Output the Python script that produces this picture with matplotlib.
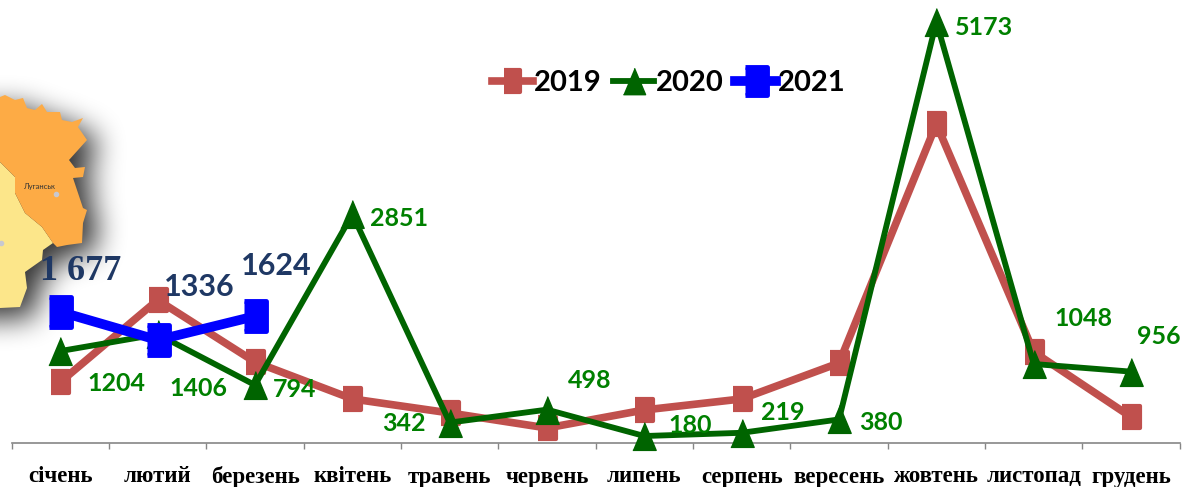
import numpy as np
import matplotlib
matplotlib.use("Agg")
import matplotlib.pyplot as plt
from matplotlib.markers import MarkerStyle
from matplotlib.path import Path
from matplotlib.patches import Polygon

months = ["січень", "лютий", "березень", "квітень", "травень", "червень",
          "липень", "серпень", "вересень", "жовтень", "листопад", "грудень"]
values_2019 = [831, 1819, 1072, 627, 458, 277, 494, 627, 1060, 3940, 1193, 410]
values_2020 = [1204, 1406, 794, 2851, 342, 498, 180, 219, 380, 5173, 1048, 956]
values_2021 = [1677, 1336, 1624]

labels_2020 = ["1204", "1406", "794", "2851", "342", "498", "180", "219", "380", "5173", "1048", "956"]
offsets_2020 = [(56, -32), (41, -54), (40, -4), (47, -4), (-46, -1), (43, 29), (46, 11), (41, 20), (42, -3), (48, -6), (50, 45), (28, 35)]
labels_2021 = ["1 677", "1336", "1624"]
fonts_2021 = ["Liberation Serif", "Lato", "Lato"]
offsets_2021 = [(20, 40), (42, 53), (21, 50)]

orange_map = [(0, 97), (5, 95), (15, 100), (23, 98), (27, 108), (35, 110), (42, 104), (47, 112), (60, 112),
              (62, 120), (72, 122), (83, 118), (78, 127), (87, 140), (78, 150), (69, 160), (75, 168), (85, 167),
              (83, 177), (73, 178), (78, 193), (83, 208), (87, 210), (83, 223), (82, 243), (67, 245), (57, 247),
              (53, 243), (42, 227), (25, 213), (15, 193), (15, 177), (0, 162)]
yellow_map = [(0, 162), (15, 177), (15, 193), (25, 213), (42, 227), (53, 243), (43, 250), (42, 260), (25, 272),
              (27, 288), (20, 307), (0, 308)]

plt.rcParams["font.family"] = ["Lato", "DejaVu Sans"]

fig = plt.figure(figsize=(11.9, 4.87), dpi=100)

# map with soft shadow, in pixel coordinates
bg = fig.add_axes([0, 0, 1, 1], zorder=0)
yy, xx = np.mgrid[0:487, 0:240]
pts = np.c_[xx.ravel() - 12, yy.ravel() - 10]
mask = Path(orange_map).contains_points(pts) | Path(yellow_map).contains_points(pts)
mask = mask.reshape(xx.shape).astype(float)
mask[:, :12] = mask[:, 12:13]
mask = np.pad(mask, ((80, 80), (80, 0)), mode="edge")
kernel = np.ones(27) / 27
for i in range(3):
    mask = np.apply_along_axis(np.convolve, 0, mask, kernel, mode="same")
    mask = np.apply_along_axis(np.convolve, 1, mask, kernel, mode="same")
mask = mask[80:-80, 80:]
rgba = np.zeros(mask.shape + (4,))
rgba[..., 3] = np.clip(mask * 0.8, 0, 1)
bg.imshow(rgba, extent=(0, 240, 487, 0), aspect="auto", interpolation="bilinear")
bg.set_xlim(0, 1190)
bg.set_ylim(487, 0)
bg.axis("off")
bg.add_patch(Polygon(yellow_map, closed=True, fc="#fce68a", ec="none"))
bg.add_patch(Polygon(orange_map, closed=True, fc="#fdab45", ec="none"))
bg.text(40, 186, "Луганськ", fontsize=5.5, ha="center", va="center", color="#333333")
bg.plot([56, 1], [194, 243], "o", ms=3, color="#c8c8d0")

ax = fig.add_axes([11.7 / 1190, 44 / 487, 1168 / 1190, 443 / 487], zorder=1)
ax.patch.set_alpha(0)
x = np.arange(12)
ax.set_xlim(-0.5, 11.5)
ax.set_ylim(96, 5434)

square_2019 = MarkerStyle([(-0.4, -0.5), (0.4, -0.5), (0.4, 0.5), (-0.4, 0.5)], joinstyle="round")
square_2021 = MarkerStyle([(-0.39, -0.5), (0.39, -0.5), (0.39, 0.5), (-0.39, 0.5)], joinstyle="round")
triangle = MarkerStyle([(-0.42, -0.5), (0.42, -0.5), (0, 0.5)])

ax.plot(x, values_2019, color="#c0504d", lw=5.5, marker=square_2019, ms=16, mew=3, clip_on=False, label="2019", zorder=3)
ax.plot(x, values_2020, color="#006400", lw=4.2, marker=triangle, ms=20, mew=1, clip_on=False, label="2020", zorder=4)
ax.plot(x[:3], values_2021, color="#0000ff", lw=7, marker=square_2021, ms=21, mew=3.5, clip_on=False, label="2021", zorder=5)

for xi, yi, text, off in zip(x, values_2020, labels_2020, offsets_2020):
    ax.annotate(text, (xi, yi), xytext=off, textcoords="offset pixels", ha="center", va="center",
                color="#008000", fontsize=18, fontweight="bold", zorder=6)
for xi, yi, text, off, font in zip(x, values_2021, labels_2021, offsets_2021, fonts_2021):
    ax.annotate(text, (xi, yi), xytext=off, textcoords="offset pixels", ha="center", va="center",
                color="#1f3864", fontsize=22 if font == "Lato" else 26, fontweight="bold", family=font, zorder=6)

for side in ["top", "left", "right"]:
    ax.spines[side].set_visible(False)
ax.spines["bottom"].set_color("#868686")
ax.spines["bottom"].set_linewidth(1.2)
ax.set_yticks([])
ax.set_xticks(np.arange(-0.5, 12, 1))
ax.set_xticklabels([])
ax.tick_params(axis="x", length=4, width=1, color="#868686")
for xi, name in zip(x, months):
    ax.annotate(name, (xi, 96), xytext=(0, -34), textcoords="offset pixels", ha="center", va="center",
                fontsize=16.5, fontweight="bold", family="Liberation Serif", annotation_clip=False)

ax.legend(loc="center left", bbox_to_anchor=(480 / 1168, 1 - 83 / 443), ncol=3, frameon=False,
          prop={"size": 21, "weight": "bold"}, handlelength=1.4, columnspacing=0.4, handletextpad=0.05,
          borderpad=0, borderaxespad=0, markerscale=0.95)

fig.savefig("out.png", dpi=100)
